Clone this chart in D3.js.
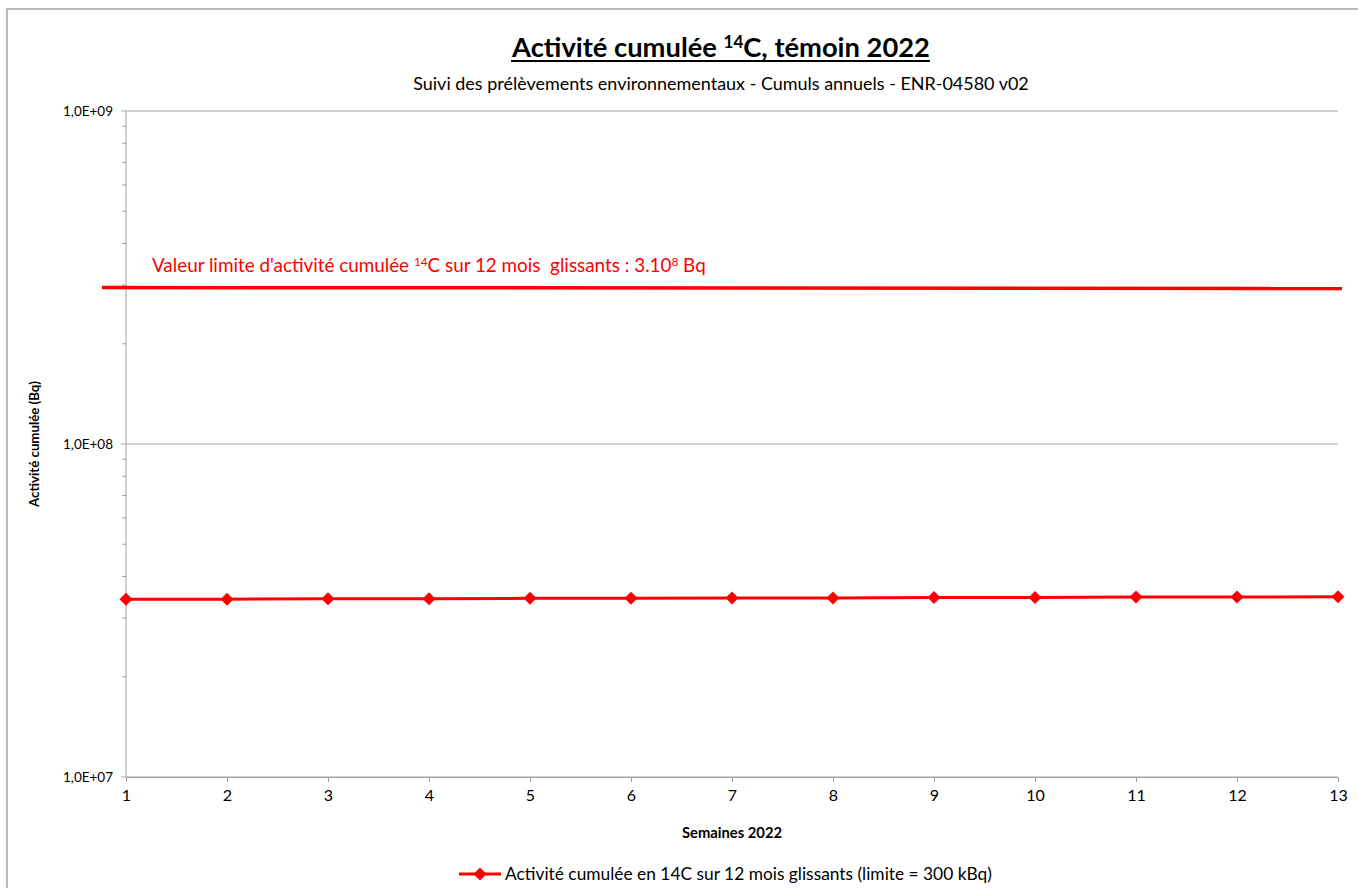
<!DOCTYPE html>
<html><head><meta charset="utf-8">
<script src="https://cdn.jsdelivr.net/npm/d3@7"></script>
<style>body{margin:0;background:#fff;font-family:Lato,"Open Sans",sans-serif;}</style>
</head><body><svg id="c" width="1358" height="888" font-family="Lato, sans-serif"></svg>
<script>
const weeks = [1,2,3,4,5,6,7,8,9,10,11,12,13];
const activity = [3.42e7,3.42e7,3.43e7,3.43e7,3.44e7,3.44e7,3.45e7,3.45e7,3.46e7,3.46e7,3.47e7,3.47e7,3.48e7];
const limitValues = [2.95e8, 2.93e8];
const yTicks = [1e7, 1e8, 1e9];
const yTickLabels = ["1,0E+07", "1,0E+08", "1,0E+09"];
const seriesName = "Activité cumulée en 14C sur 12 mois glissants (limite = 300 kBq)";

const svg = d3.select("#c");
const red = "#ff0000";
const L = 126, R = 1338, T = 111, B = 777;
const x = d3.scaleLinear().domain([1, 13]).range([L, R]);
const y = d3.scaleLog().domain([1e7, 1e9]).range([B, T]);

function fit(sel, w) {
  const bw = sel.node().getComputedTextLength();
  const fs = parseFloat(sel.attr("font-size"));
  sel.attr("font-size", (fs * w / bw).toFixed(2));
  // scale tspans with explicit size too
  sel.selectAll("tspan[font-size]").each(function () {
    const t = d3.select(this);
    t.attr("font-size", (parseFloat(t.attr("font-size")) * w / bw).toFixed(2));
  });
  return sel;
}

// chart border
svg.append("rect").attr("x", 7).attr("y", 9).attr("width", 1400).attr("height", 900)
  .attr("fill", "none").attr("stroke", "#a0a0a0").attr("stroke-width", 1.5);

// gridlines
svg.append("g").selectAll("line").data(yTicks).join("line")
  .attr("x1", L - 5).attr("x2", R).attr("y1", d => y(d)).attr("y2", d => y(d))
  .attr("stroke", "#a6a6a6").attr("stroke-width", 1);

// y axis with minor ticks
const minor = [];
[1e7, 1e8].forEach(b => { for (let k = 2; k <= 9; k++) minor.push(b * k); });
svg.append("g").selectAll("line").data(minor).join("line")
  .attr("x1", L - 4).attr("x2", L).attr("y1", d => y(d)).attr("y2", d => y(d))
  .attr("stroke", "#a0a0a0");
svg.append("line").attr("x1", L).attr("x2", L).attr("y1", T).attr("y2", B)
  .attr("stroke", "#a0a0a0").attr("stroke-width", 1);
svg.append("g").selectAll("text").data(yTicks).join("text")
  .attr("x", 113).attr("y", d => y(d) + 4.5).attr("text-anchor", "end")
  .attr("font-size", 13.5).attr("fill", "#000").text((d, i) => yTickLabels[i]);

// x axis
const xAxis = d3.axisBottom(x).tickValues(weeks).tickSize(5).tickPadding(8).tickFormat(d3.format("d"));
const gx = svg.append("g").attr("transform", `translate(0,${B})`).call(xAxis);
gx.select(".domain").attr("stroke", "#a0a0a0");
gx.selectAll(".tick line").attr("stroke", "#a0a0a0");
gx.selectAll(".tick text").attr("font-size", 16).attr("font-family", "Lato, sans-serif").attr("fill", "#000");

// axis titles
fit(svg.append("text").attr("x", 732).attr("y", 838).attr("text-anchor", "middle")
  .attr("font-size", 13).attr("font-weight", "bold").text("Semaines 2022"), 100);
fit(svg.append("text").attr("transform", "translate(39,444) rotate(-90)").attr("text-anchor", "middle")
  .attr("font-size", 13).attr("font-weight", "bold").text("Activité cumulée (Bq)"), 126);

// title
const title = svg.append("text").attr("x", 721).attr("y", 57).attr("text-anchor", "middle")
  .attr("font-size", 24).attr("font-weight", "bold");
title.append("tspan").text("Activité cumulée ");
title.append("tspan").attr("font-size", 15).attr("dy", -9).text("14");
title.append("tspan").attr("dy", 9).text("C, témoin 2022");
fit(title, 418);
const tb = title.node().getBBox();
svg.append("line").attr("x1", tb.x).attr("x2", tb.x + tb.width).attr("y1", 61).attr("y2", 61)
  .attr("stroke", "#000").attr("stroke-width", 2);
fit(svg.append("text").attr("x", 721).attr("y", 90).attr("text-anchor", "middle")
  .attr("font-size", 14).text("Suivi des prélèvements environnementaux - Cumuls annuels - ENR-04580 v02"), 616);

// limit line and annotation
svg.append("line").attr("x1", L - 24).attr("x2", R + 4)
  .attr("y1", y(limitValues[0])).attr("y2", y(limitValues[1]))
  .attr("stroke", red).attr("stroke-width", 3.5);
const ann = svg.append("text").attr("x", 152).attr("y", 272).attr("font-size", 16).attr("fill", red);
ann.append("tspan").text("Valeur limite d'activité cumulée ");
ann.append("tspan").attr("font-size", 10).attr("dy", -6).text("14");
ann.append("tspan").attr("dy", 6).text("C sur 12 mois\u00a0 glissants : 3.10");
ann.append("tspan").attr("font-size", 10).attr("dy", -6).text("8");
ann.append("tspan").attr("dy", 6).text(" Bq");
fit(ann, 554);

// series
const line = d3.line().x((d, i) => x(weeks[i])).y(d => y(d));
svg.append("path").datum(activity).attr("d", line).attr("fill", "none")
  .attr("stroke", red).attr("stroke-width", 3);
svg.append("g").selectAll("path").data(activity).join("path")
  .attr("transform", (d, i) => `translate(${x(weeks[i])},${y(d)}) rotate(45)`)
  .attr("d", d3.symbol().type(d3.symbolSquare).size(85)).attr("fill", red);

// legend
const ly = 874;
svg.append("line").attr("x1", 459).attr("x2", 501).attr("y1", ly).attr("y2", ly)
  .attr("stroke", red).attr("stroke-width", 3);
svg.append("path").attr("transform", `translate(480,${ly}) rotate(45)`)
  .attr("d", d3.symbol().type(d3.symbolSquare).size(85)).attr("fill", red);
fit(svg.append("text").attr("x", 505).attr("y", ly + 5.5).attr("font-size", 14).text(seriesName), 487);
</script></body></html>
